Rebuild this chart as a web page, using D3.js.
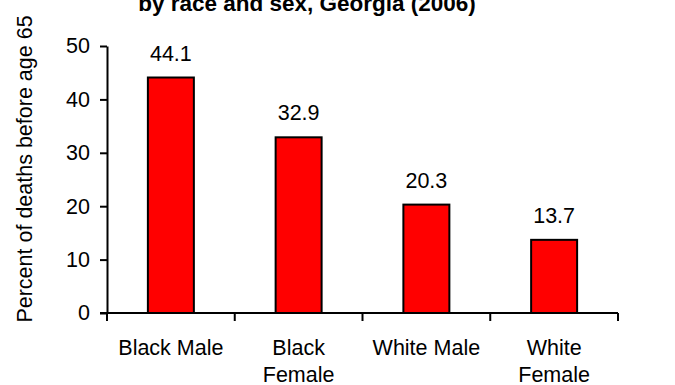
<!DOCTYPE html>
<html>
<head>
<meta charset="utf-8">
<script src="https://cdn.jsdelivr.net/npm/d3@7"></script>
<style>
  body { margin: 0; background: #fff; }
  text { font-family: "Liberation Sans", Arial, sans-serif; fill: #000; }
</style>
</head>
<body>
<div id="chart"></div>
<script>
var categories = [['Black Male'], ['Black', 'Female'], ['White Male'], ['White', 'Female']];
var values = [44.1, 32.9, 20.3, 13.7];
var yTicks = [0, 10, 20, 30, 40, 50];

var width = 675, height = 385;
var plotLeft = 107, plotRight = 618, plotTop = 46, plotBottom = 313;

var svg = d3.select('#chart').append('svg')
    .attr('width', width)
    .attr('height', height);

var x = d3.scaleBand()
    .domain(d3.range(categories.length))
    .range([plotLeft, plotRight]);

var y = d3.scaleLinear()
    .domain([0, 50])
    .range([plotBottom, plotTop]);

// title (first line falls outside the picture)
svg.append('text')
  .attr('x', 307)
  .attr('y', 11)
  .attr('text-anchor', 'middle')
  .style('font-size', '22.5px')
  .style('font-weight', 'bold')
  .text('by race and sex, Georgia (2006)');

// bars
var barW = x.bandwidth() * 0.36;
svg.selectAll('rect.bar')
  .data(values)
  .enter().append('rect')
  .attr('class', 'bar')
  .attr('x', function(d, i) { return x(i) + (x.bandwidth() - barW) / 2; })
  .attr('y', function(d) { return y(d); })
  .attr('width', barW)
  .attr('height', function(d) { return plotBottom - y(d); })
  .attr('fill', '#ff0000')
  .attr('stroke', '#000')
  .attr('stroke-width', 2);

// value labels
svg.selectAll('text.val')
  .data(values)
  .enter().append('text')
  .attr('class', 'val')
  .attr('x', function(d, i) { return x(i) + x.bandwidth() / 2; })
  .attr('y', function(d) { return y(d) - 17; })
  .attr('text-anchor', 'middle')
  .style('font-size', '21.5px')
  .text(function(d) { return d.toFixed(1); });

// y axis
var yAxis = svg.append('g')
  .attr('transform', 'translate(' + plotLeft + ',0)')
  .call(d3.axisLeft(y).tickValues(yTicks).tickSize(7).tickSizeOuter(0).tickPadding(10));
yAxis.selectAll('text').style('font-size', '21.5px').attr('font-family', null);
yAxis.selectAll('line, path').attr('stroke', '#000').attr('stroke-width', 2);

// x axis
var xAxis = svg.append('g')
  .attr('transform', 'translate(0,' + plotBottom + ')');
xAxis.append('line')
  .attr('x1', plotLeft - 7).attr('x2', plotRight)
  .attr('stroke', '#000').attr('stroke-width', 2);
xAxis.selectAll('line.tick')
  .data(d3.range(categories.length + 1))
  .enter().append('line')
  .attr('class', 'tick')
  .attr('x1', function(i) { return plotLeft + i * x.step(); })
  .attr('x2', function(i) { return plotLeft + i * x.step(); })
  .attr('y1', 0).attr('y2', 8)
  .attr('stroke', '#000').attr('stroke-width', 2);

var lab = xAxis.selectAll('text.cat')
  .data(categories)
  .enter().append('text')
  .attr('class', 'cat')
  .attr('x', function(d, i) { return x(i) + x.bandwidth() / 2; })
  .attr('y', 42)
  .attr('text-anchor', 'middle')
  .style('font-size', '21.5px');
lab.selectAll('tspan')
  .data(function(d) { return d; })
  .enter().append('tspan')
  .attr('x', function() { return d3.select(this.parentNode).attr('x'); })
  .attr('dy', function(d, i) { return i ? 27 : 0; })
  .text(function(d) { return d; });

// y axis title
svg.append('text')
  .attr('transform', 'translate(32,169) rotate(-90)')
  .attr('text-anchor', 'middle')
  .style('font-size', '21.5px')
  .text('Percent of deaths before age 65');
</script>
</body>
</html>
